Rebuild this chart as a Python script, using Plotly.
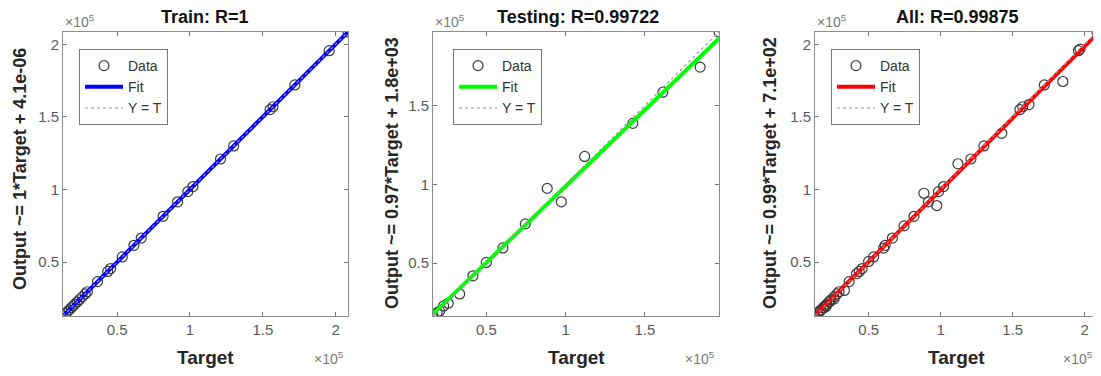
import plotly.graph_objects as go

# page body has an 8px default margin; the figure is sized to fit the 1101x376 window
OFF = 8
W, H = 1101 - OFF, 376 - OFF

# ---------------- data (values in real units) ----------------
train_target = [12800, 14500, 15800, 17000, 18500, 19800, 21000, 22500, 24000, 26000,
                28000, 29500, 36500, 43500, 45500, 53500, 61500, 66500, 81500, 91500,
                98500, 102000, 121000, 130000, 155000, 157000, 172000, 195600, 208500]
train_output = [12800, 14500, 15800, 17000, 18500, 19800, 21000, 22500, 24000, 26000,
                28000, 29500, 36500, 43500, 45500, 53500, 61500, 66500, 81500, 91500,
                98500, 102000, 121000, 130000, 155000, 157000, 172000, 195600, 208500]

test_target = [16400, 19000, 20600, 23100, 26000, 33200, 41600, 50000, 60500, 74600,
               88400, 97300, 112000, 142400, 161300, 184800, 196700]
test_output = [16400, 18500, 19500, 22800, 24500, 30400, 41900, 50400, 59600, 74900,
               97400, 88900, 117700, 138700, 158500, 174400, 196700]

all_target = train_target + test_target
all_output = train_output + test_output

titles = ["Train: R=1", "Testing: R=0.99722", "All: R=0.99875"]
ylabels = ["Output ~= 1*Target + 4.1e-06",
           "Output ~= 0.97*Target + 1.8e+03",
           "Output ~= 0.99*Target + 7.1e+02"]
fit_slope = [1.0, 0.97, 0.99]
fit_icept = [4.1e-06, 1.8e+03, 7.1e+02]
fit_colors = ["#0000ff", "#00ff00", "#ff0000"]
ranges = [[12800, 208500], [16400, 196700], [12800, 208500]]

tick_vals = [50000, 100000, 150000, 200000]
tick_text = ["0.5", "1", "1.5", "2"]

sets = [(train_target, train_output), (test_target, test_output), (all_target, all_output)]

# ---------------- layout geometry (window pixels) ----------------
x_px = [(63, 348), (433, 719), (815, 1097)]
y_px = (32, 316)
title_cx = [205, 578, 957]
ylab_cx = [20, 392, 770]
ylab_cy = [169, 173, 173]
legend_px = [(79, 49), (453, 49), (831, 49)]

def px(x):
    return (x - OFF) / W

def py(y):
    return 1 - (y - OFF) / H

fig = go.Figure()
font_family = "Liberation Sans, Arial, Helvetica, sans-serif"

for i in range(3):
    xa = "x" if i == 0 else f"x{i+1}"
    ya = "y" if i == 0 else f"y{i+1}"
    lg = "legend" if i == 0 else f"legend{i+1}"
    t, o = sets[i]
    lo, hi = ranges[i]
    fig.add_trace(go.Scatter(
        x=t, y=o, mode="markers", name="Data", xaxis=xa, yaxis=ya, legend=lg,
        marker=dict(symbol="circle-open", size=10, color="#3a3a3a", line=dict(width=1.2)),
    ))
    fig.add_trace(go.Scatter(
        x=[lo, hi], y=[fit_slope[i] * lo + fit_icept[i], fit_slope[i] * hi + fit_icept[i]],
        mode="lines", name="Fit", xaxis=xa, yaxis=ya, legend=lg,
        line=dict(color=fit_colors[i], width=4),
    ))
    fig.add_trace(go.Scatter(
        x=[lo, hi], y=[lo, hi], mode="lines", name="Y = T", xaxis=xa, yaxis=ya, legend=lg,
        line=dict(color="#9a9a9a", width=1.2, dash="dot"),
    ))

    axis_common = dict(
        range=ranges[i], tickvals=tick_vals, ticktext=tick_text,
        ticks="inside", ticklen=4, tickcolor="#777", tickwidth=1,
        showline=True, linecolor="#8c8c8c", linewidth=1, mirror="allticks",
        showgrid=False, zeroline=False,
        tickfont=dict(family=font_family, size=15, color="#5a5a5a"),
    )
    xk = "xaxis" if i == 0 else f"xaxis{i+1}"
    yk = "yaxis" if i == 0 else f"yaxis{i+1}"
    fig.layout[xk] = dict(axis_common, domain=[px(x_px[i][0]), px(x_px[i][1])], anchor=ya)
    fig.layout[yk] = dict(axis_common, domain=[py(y_px[1]), py(y_px[0])], anchor=xa)

    fig.layout[lg] = dict(
        x=px(legend_px[i][0]), y=py(legend_px[i][1]), xanchor="left", yanchor="top",
        bgcolor="white", bordercolor="#7a7a7a", borderwidth=1,
        font=dict(family=font_family, size=14, color="#333"),
        tracegroupgap=0, itemwidth=38,
    )

    ann = dict(xref="paper", yref="paper", showarrow=False)
    # title
    fig.add_annotation(text=f"<b>{titles[i]}</b>", x=px(title_cx[i]), y=py(17),
                       xanchor="center", yanchor="middle",
                       font=dict(family=font_family, size=18, color="#111"), **ann)
    # x label
    fig.add_annotation(text="<b>Target</b>", x=px((x_px[i][0] + x_px[i][1]) / 2), y=py(357),
                       xanchor="center", yanchor="middle",
                       font=dict(family=font_family, size=19, color="#262626"), **ann)
    # y label
    fig.add_annotation(text=f"<b>{ylabels[i]}</b>", x=px(ylab_cx[i]), y=py(ylab_cy[i]),
                       xanchor="center", yanchor="middle", textangle=-90,
                       font=dict(family=font_family, size=18, color="#262626"), **ann)
    # exponent labels
    fig.add_annotation(text="×10<sup>5</sup>", x=px(x_px[i][0] + 1), y=py(31),
                       xanchor="left", yanchor="bottom", borderpad=0,
                       font=dict(family=font_family, size=14, color="#777"), **ann)
    fig.add_annotation(text="×10<sup>5</sup>", x=px(x_px[i][1] - 2), y=py(358),
                       xanchor="right", yanchor="middle",
                       font=dict(family=font_family, size=14, color="#777"), **ann)

fig.update_layout(
    width=W, height=H, autosize=False,
    margin=dict(l=0, r=0, t=0, b=0),
    paper_bgcolor="white", plot_bgcolor="white",
    font=dict(family=font_family),
)

fig.write_html("out.html")
